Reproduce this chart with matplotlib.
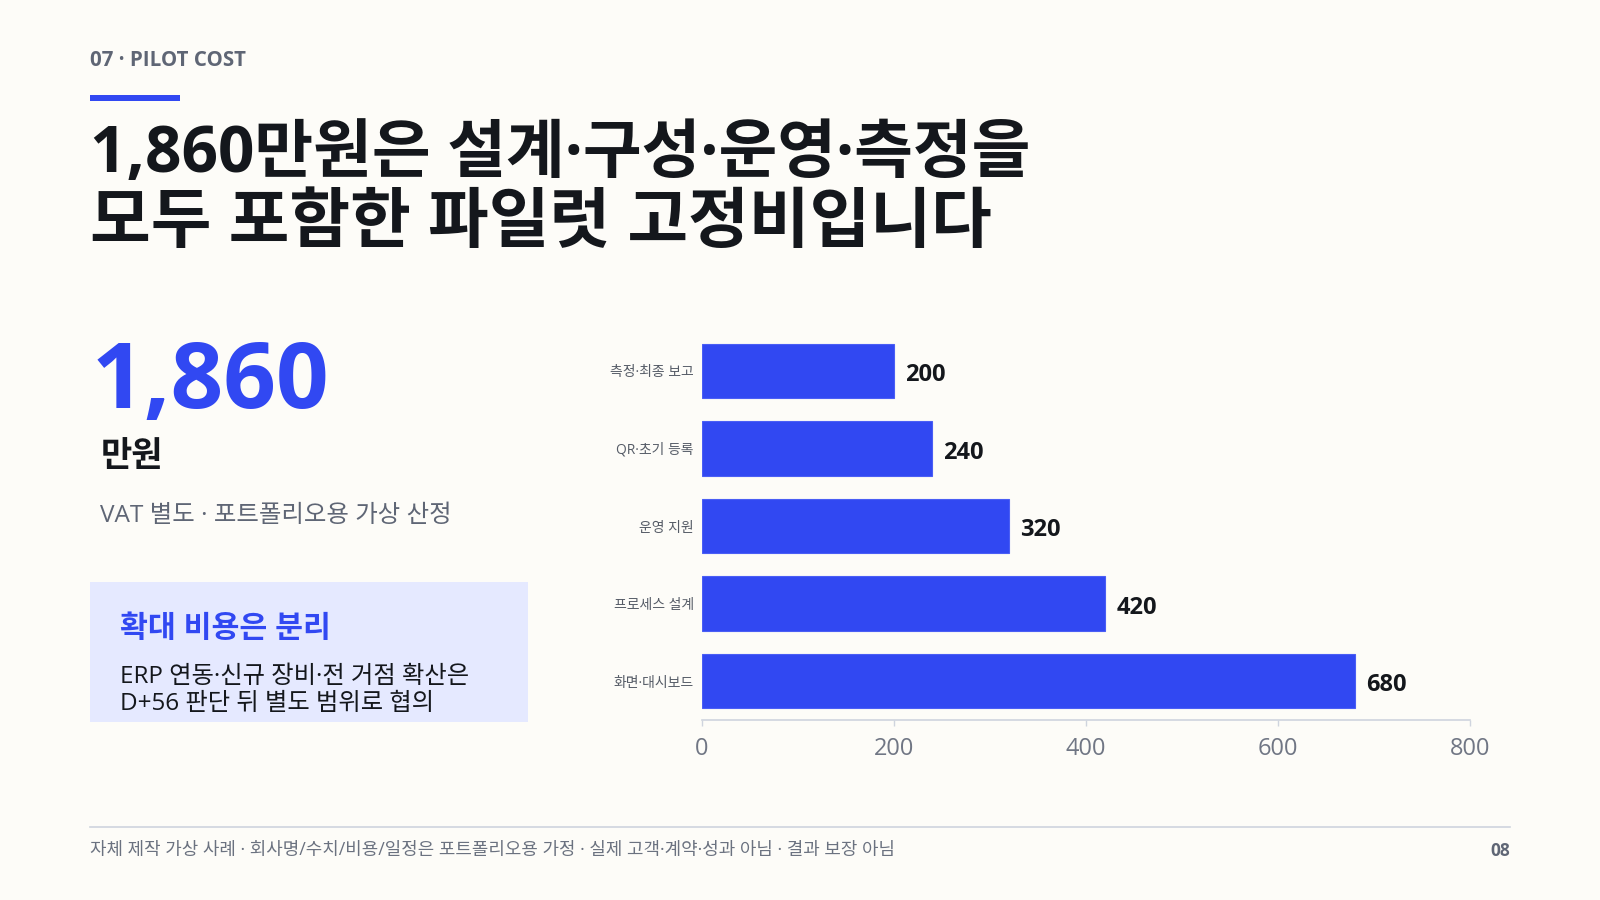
import matplotlib.pyplot as plt
from matplotlib.patches import Rectangle

# 파일럿 비용 항목 (만원)
items = ['측정·최종 보고', 'QR·초기 등록', '운영 지원', '프로세스 설계', '화면·대시보드']
costs = [200, 240, 320, 420, 680]
x_ticks = [0, 200, 400, 600, 800]

total = '1,860'
kicker = '07 · PILOT COST'
title_lines = ['1,860만원은 설계·구성·운영·측정을', '모두 포함한 파일럿 고정비입니다']
unit = '만원'
sub_note = 'VAT 별도 · 포트폴리오용 가상 산정'
box_title = '확대 비용은 분리'
box_lines = ['ERP 연동·신규 장비·전 거점 확산은', 'D+56 판단 뒤 별도 범위로 협의']
footer = '자체 제작 가상 사례 · 회사명/수치/비용/일정은 포트폴리오용 가정 · 실제 고객·계약·성과 아님 · 결과 보장 아님'
page_no = '08'

BG = '#fdfcf8'
BLUE = '#3148f2'
DARK = '#14171c'
GRAY = '#5f6675'
LIGHT = '#cfd4de'

# 라틴 문자와 가운뎃점은 Open Sans, 한글은 CJK 폰트로
plt.rcParams['font.family'] = ['Open Sans', 'Noto Sans CJK KR', 'DejaVu Sans']

W, H = 1600, 900
fig = plt.figure(figsize=(16, 9), dpi=100, facecolor=BG)


def X(px):
    return px / W


def Y(px):
    return 1 - px / H


# 상단 머리말
fig.text(X(90), Y(60), kicker, fontsize=14.8, fontweight='bold', color=GRAY, va='center')
fig.patches.append(Rectangle((X(90), Y(101)), X(90), 6 / H, transform=fig.transFigure,
                             facecolor=BLUE, edgecolor='none'))

# 제목
fig.text(X(90), Y(156), title_lines[0], fontsize=46, fontweight='bold', color=DARK, va='center')
fig.text(X(90), Y(225), title_lines[1], fontsize=47.5, fontweight='bold', color=DARK, va='center')

# 왼쪽 요약
fig.text(X(92), Y(408), total, fontsize=66.5, fontweight='bold', color=BLUE, va='baseline')
fig.text(X(101), Y(457), unit, fontsize=24.5, fontweight='bold', color=DARK, va='center')
fig.text(X(100), Y(516), sub_note, fontsize=17.6, color=GRAY, va='center')

fig.patches.append(Rectangle((X(90), Y(722)), X(438), 140 / H, transform=fig.transFigure,
                             facecolor='#e5e9ff', edgecolor='none'))
fig.text(X(120), Y(629), box_title, fontsize=21.8, fontweight='bold', color=BLUE, va='center')
fig.text(X(120), Y(677), box_lines[0], fontsize=17.5, color=DARK, va='center')
fig.text(X(120), Y(704), box_lines[1], fontsize=17.5, color=DARK, va='center')

# 막대 차트
ax = fig.add_axes([X(702), Y(720), X(768), (720 - 332) / H])
ax.set_facecolor('none')
pos = list(range(len(items)))
ax.barh(pos, costs, height=0.7, color=BLUE, edgecolor='#4a5ef5', linewidth=0.8)
for p, v in zip(pos, costs):
    ax.annotate(str(v), xy=(v, p), xytext=(8, -3), textcoords='offset points',
                va='center', ha='left', fontsize=17, fontweight='bold', color=DARK)

ax.set_xlim(0, 800)
ax.set_ylim(len(items) - 0.5, -0.5)
ax.set_yticks(pos, items)
ax.set_xticks(x_ticks, [str(t) for t in x_ticks])
ax.tick_params(axis='y', length=0, pad=6, labelsize=10, labelcolor='#555b66')
ax.tick_params(axis='x', length=4, width=1, color=LIGHT, pad=8, labelsize=17, labelcolor='#707684')
for s in ['top', 'right', 'left']:
    ax.spines[s].set_visible(False)
ax.spines['bottom'].set_color(LIGHT)
ax.spines['bottom'].set_linewidth(1.2)

# 하단 꼬리말
fig.add_artist(plt.Line2D([X(90), X(1510)], [Y(827), Y(827)], transform=fig.transFigure,
                          color=LIGHT, linewidth=1.2))
fig.text(X(90), Y(850), footer, fontsize=12.9, color='#6b7280', va='center')
fig.text(X(1510), Y(851), page_no, fontsize=12.5, fontweight='bold', color=GRAY, va='center', ha='right')

fig.savefig('out.png', dpi=100, facecolor=BG)
